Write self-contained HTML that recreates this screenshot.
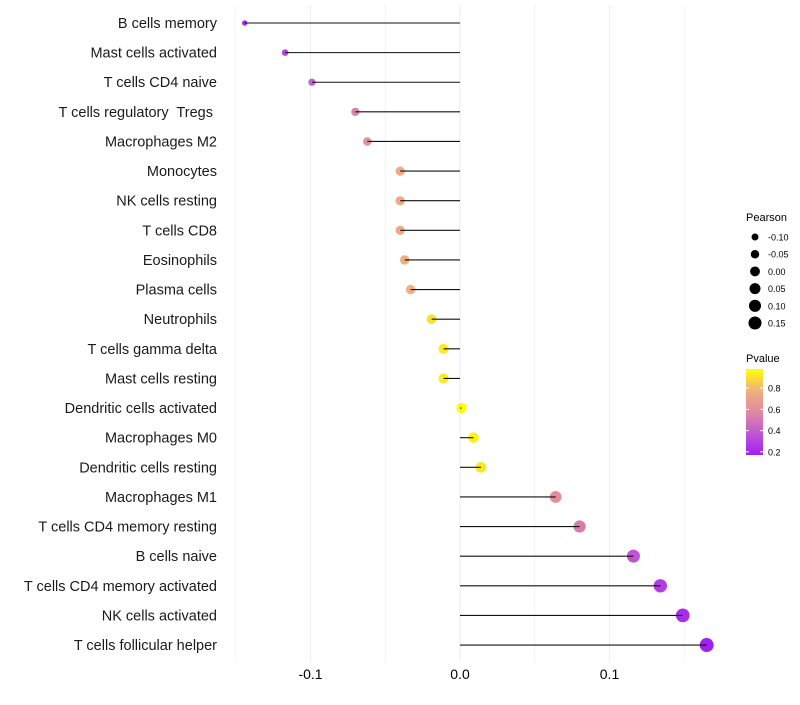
<!DOCTYPE html>
<html><head><meta charset="utf-8"><style>
body{margin:0;background:#fff;font-family:"Liberation Sans",sans-serif}
text{white-space:pre}
</style></head><body>
<svg id="chart" width="800" height="700" xmlns="http://www.w3.org/2000/svg"></svg>
<script>
const cells=["B cells memory","Mast cells activated","T cells CD4 naive","T cells regulatory  Tregs ","Macrophages M2","Monocytes","NK cells resting","T cells CD8","Eosinophils","Plasma cells","Neutrophils","T cells gamma delta","Mast cells resting","Dendritic cells activated","Macrophages M0","Dendritic cells resting","Macrophages M1","T cells CD4 memory resting","B cells naive","T cells CD4 memory activated","NK cells activated","T cells follicular helper"];
const pearson=[-0.144,-0.117,-0.099,-0.070,-0.062,-0.040,-0.040,-0.040,-0.037,-0.033,-0.019,-0.011,-0.011,0.001,0.009,0.014,0.064,0.080,0.116,0.134,0.149,0.165];
const pvalue=[0.22,0.32,0.42,0.55,0.62,0.75,0.75,0.75,0.76,0.78,0.9,0.93,0.93,0.99,0.95,0.92,0.6,0.52,0.36,0.28,0.22,0.17];
const xTicks=[-0.1,0,0.1];
const xTickLabels=["-0.1","0.0","0.1"];
const xMinor=[-0.15,-0.05,0.05,0.15];
const sizeLegend=[-0.10,-0.05,0.00,0.05,0.10,0.15];
const sizeLegendLabels=["-0.10","-0.05","0.00","0.05","0.10","0.15"];
const pLegend=[0.8,0.6,0.4,0.2];

const NS="http://www.w3.org/2000/svg";
const svg=document.getElementById('chart');
const X=v=>460+v*1495;
const Y=i=>23+i*29.62;
const R=v=>Math.sqrt(Math.max(3,26.8+135*v));
function mk(t,a,p){const e=document.createElementNS(NS,t);for(const k in a)e.setAttribute(k,a[k]);(p||svg).appendChild(e);return e;}
function lerp(a,b,t){return a.map((x,i)=>Math.round(x+(b[i]-x)*t));}
function col(p){const t=Math.max(0,Math.min(1,(p-0.17)/(0.98-0.17)));
 const s=[[160,32,240],[194,85,213],[224,138,160],[239,176,128],[255,255,0]];
 const f=t*4,i=Math.min(3,Math.floor(f));const c=lerp(s[i],s[i+1],f-i);return `rgb(${c})`;}
xMinor.forEach(v=>{const g=mk('line',{x1:X(v),x2:X(v),y1:5,y2:662,stroke:'#f4f4f4','stroke-width':1});
});
xTicks.forEach((v,i)=>{const g=mk('line',{x1:X(v),x2:X(v),y1:5,y2:662,stroke:'#ededed','stroke-width':1});

const t=mk('text',{x:X(v),y:679,'text-anchor':'middle','font-size':14,fill:'#000'});t.textContent=xTickLabels[i];
});
cells.forEach((c,i)=>{
 const y=Y(i);
 const t=mk('text',{x:217,y:y+5,'text-anchor':'end','font-size':14.5,fill:'#1a1a1a'});t.textContent=c;
 
 const d=mk('circle',{cx:X(pearson[i]),cy:y,r:R(pearson[i]),fill:col(pvalue[i])});
 
 const l=mk('line',{x1:X(0),x2:X(pearson[i]),y1:y,y2:y,stroke:'#111','stroke-width':1.1});
 
});
let tt=mk('text',{x:746,y:221,'font-size':11,fill:'#000'});tt.textContent='Pearson';

sizeLegend.forEach((v,i)=>{const y=237+i*17.2;
 const c=mk('circle',{cx:755,cy:y,r:R(v)*0.95,fill:'#000'});
 
 const t=mk('text',{x:768,y:y+3.5,'font-size':9,fill:'#000'});t.textContent=sizeLegendLabels[i];
 });
tt=mk('text',{x:746,y:362,'font-size':11,fill:'#000'});tt.textContent='Pvalue';

const defs=mk('defs',{});const gr=mk('linearGradient',{id:'pg',x1:0,y1:1,x2:0,y2:0},defs);
for(let k=0;k<=10;k++){mk('stop',{offset:k/10,'stop-color':col(0.17+0.81*k/10)},gr);}
const bar=mk('rect',{x:746,y:369,width:17,height:86,fill:'url(#pg)'});

const pY=p=>455-(p-0.17)/(0.98-0.17)*86;
pLegend.forEach(p=>{const y=pY(p);
 mk('line',{x1:746,x2:749,y1:y,y2:y,stroke:'#fff'});mk('line',{x1:760,x2:763,y1:y,y2:y,stroke:'#fff'});
 const t=mk('text',{x:768,y:y+3.5,'font-size':9,fill:'#000'});t.textContent=p.toFixed(1);
 });
</script>
</body></html>
